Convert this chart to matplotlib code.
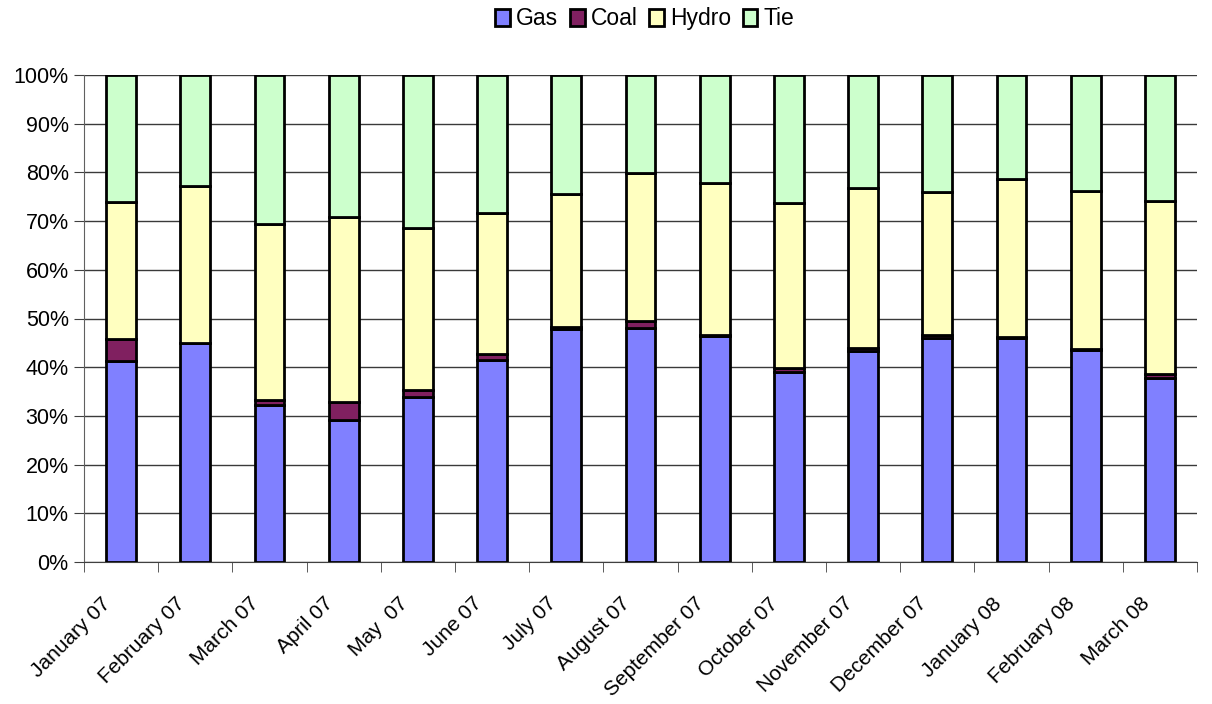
import matplotlib
matplotlib.use("Agg")
import matplotlib.pyplot as plt
import matplotlib.transforms as mtransforms
import numpy as np
from matplotlib.ticker import FixedLocator, FuncFormatter

plt.rcParams['font.family'] = ['Liberation Sans', 'DejaVu Sans']

categories = ["January 07", "February 07", "March 07", "April 07", "May  07", "June 07",
              "July 07", "August 07", "September 07", "October 07", "November 07",
              "December 07", "January 08", "February 08", "March 08"]
# cumulative tops (%)
gas_top = [41.2, 44.9, 32.2, 29.2, 33.8, 41.5, 47.9, 48.1, 46.4, 39.0, 43.3, 45.9, 46.0, 43.6, 37.8]
coal_top = [45.7, 45.0, 33.2, 32.8, 35.4, 42.8, 48.3, 49.4, 46.6, 39.9, 43.9, 46.7, 46.2, 43.7, 38.6]
hydro_top = [73.9, 77.3, 69.4, 70.8, 68.5, 71.6, 75.5, 79.9, 77.9, 73.7, 76.8, 75.9, 78.6, 76.2, 74.1]

gas = np.array(gas_top)
coal = np.array(coal_top) - np.array(gas_top)
hydro = np.array(hydro_top) - np.array(coal_top)
tie = 100 - np.array(hydro_top)

series = [("Gas", gas, "#8080FF"), ("Coal", coal, "#802060"),
          ("Hydro", hydro, "#FFFFC0"), ("Tie", tie, "#CCFFCC")]

FS = 15

fig = plt.figure(figsize=(12.12, 7.04), dpi=100)
ax = fig.add_axes([84/1212, 1 - 562/704, (1197-84)/1212, (562-75)/704])

x = np.arange(len(categories))
bottom = np.zeros(len(categories))
handles = []
for name, vals, col in series:
    b = ax.bar(x, vals, width=0.4, bottom=bottom, color=col, edgecolor="black",
               linewidth=2.0, label=name, zorder=3)
    bottom = bottom + vals
    handles.append(b)

ax.set_xlim(-0.5, len(categories) - 0.5)
ax.set_ylim(0, 100)
ax.set_yticks(np.arange(0, 101, 10))
ax.yaxis.set_major_formatter(FuncFormatter(lambda v, p: f"{int(v)}%"))
ax.grid(axis="y", color="#3a3a3a", linewidth=1.0, zorder=0)
ax.set_axisbelow(True)

ax.set_xticks(x)
ax.set_xticklabels(categories, rotation=45, ha="right", rotation_mode="anchor", fontsize=FS)
ax.tick_params(axis="x", length=0, pad=10)
offset = mtransforms.ScaledTranslation(-20/100, -18/100, fig.dpi_scale_trans)
for lab in ax.get_xticklabels():
    lab.set_transform(lab.get_transform() + offset)
ax.xaxis.set_minor_locator(FixedLocator(np.arange(-0.5, len(categories), 1.0)))
ax.tick_params(axis="x", which="minor", length=7, color="#404040", direction="out")
ax.tick_params(axis="y", labelsize=15.5, length=7, color="#404040", direction="out", pad=4)

for s in ["top", "right"]:
    ax.spines[s].set_visible(False)
ax.spines["left"].set_color("#606060")
ax.spines["bottom"].set_color("#404040")

fig.legend(handles=handles, labels=[s[0] for s in series], loc="upper center",
           bbox_to_anchor=(0.532, 1.019), ncol=4, frameon=False, fontsize=16.5,
           handlelength=0.65, handleheight=0.75, handletextpad=0.26, columnspacing=0.5)

fig.savefig("out.png", dpi=100)
